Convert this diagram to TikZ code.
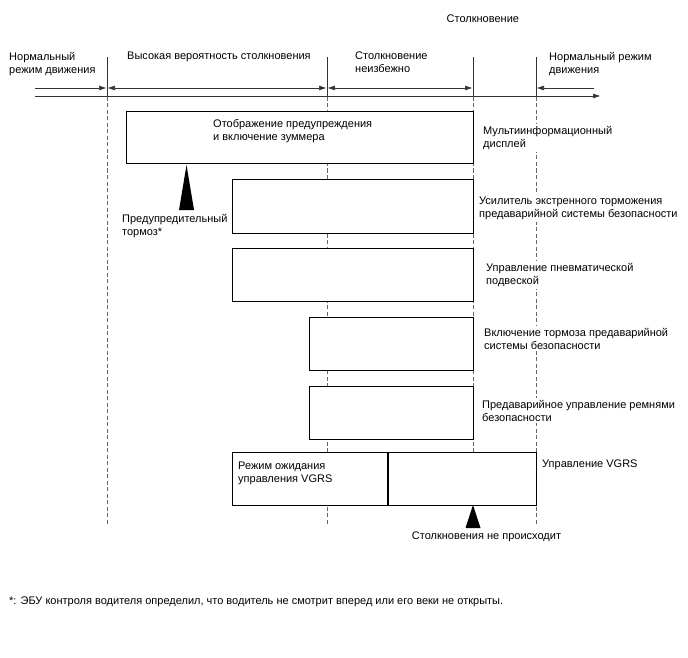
\documentclass[tikz,border=0pt]{standalone}
\usepackage{fontspec}
\setmainfont{Liberation Sans}
\usetikzlibrary{arrows.meta}
\begin{document}
\begin{tikzpicture}[x=1pt,y=-1pt,
  txt/.style={font=\fontsize{11}{13}\selectfont, inner sep=2pt, fill=white, align=left, anchor=north west},
  bx/.style={draw=black, line width=1.1pt, fill=white, anchor=north west, inner sep=0pt},
  vl/.style={draw=black!80, line width=0.6pt},
  vd/.style={draw=black!60, line width=0.6pt, dash pattern=on 4pt off 2.5pt},
  tip/.style={-{Triangle[length=7pt,width=4.5pt]}},
  tipb/.style={{Triangle[length=7pt,width=4.5pt]}-{Triangle[length=7pt,width=4.5pt]}},
  tri/.style={fill=black, draw=none}]
\useasboundingbox (0,0) rectangle (688,658);
% coordinates of the phase boundaries
\coordinate (t1) at (107,57);
\coordinate (t2) at (327,57);
\coordinate (t3) at (473,57);
\coordinate (t4) at (536,57);
% vertical lines
\foreach \c in {t1,t2,t3,t4}{
  \draw[vl] (\c) -- ++(0,40);
  \draw[vd] ([yshift=-40pt]\c) -- ++(0,428);
}
% baseline and arrows
\coordinate (b0) at (35,96);
\coordinate (b1) at (600,96);
\draw[vl, -{Triangle[length=7pt,width=4.5pt]}] (b0) -- (b1);
\coordinate (a0) at (35,88);
\coordinate (a1) at (106,88);
\coordinate (a2) at (108,88);
\coordinate (a3) at (326,88);
\coordinate (a4) at (328,88);
\coordinate (a5) at (472,88);
\coordinate (a6) at (537,88);
\coordinate (a7) at (594,88);
\draw[vl, tip] (a0) -- (a1);
\draw[vl, tipb] (a2) -- (a3);
\draw[vl, tipb] (a4) -- (a5);
\draw[vl, tip] (a7) -- (a6);
% header texts
\node[txt] (h0) at (444.5,13) {Столкновение};
\node[txt] (h1) at (7,50) {Нормальный\\режим движения};
\node[txt] (h2) at (125,50) {Высокая вероятность столкновения};
\node[txt] (h3) at (353,50) {Столкновение\\неизбежно};
\node[txt] (h4) at (547,50) {Нормальный режим\\движения};
% boxes
\node[bx, minimum width=347pt, minimum height=52pt] (b1x) at (126,111) {};
\node[txt, fill=none] (b1t) at (211,117) {Отображение предупреждения\\и включение зуммера};
\node[txt] (b1l) at (481,124) {Мультиинформационный\\дисплей};

\node[bx, minimum width=241pt, minimum height=54pt] (b2x) at (232,179) {};
\node[txt] (b2l) at (477,195) {Усилитель экстренного торможения\\предаварийной системы безопасности};

\node[bx, minimum width=241pt, minimum height=53pt] (b3x) at (232,248) {};
\node[txt] (b3l) at (484,261) {Управление пневматической\\подвеской};

\node[bx, minimum width=164pt, minimum height=53pt] (b4x) at (309,317) {};
\node[txt] (b4l) at (482,326) {Включение тормоза предаварийной\\системы безопасности};

\node[bx, minimum width=164pt, minimum height=53pt] (b5x) at (309,386) {};
\node[txt] (b5l) at (480,398) {Предаварийное управление ремнями\\безопасности};

\node[bx, minimum width=304pt, minimum height=53pt] (b6x) at (232,452) {};
\draw[line width=1.1pt] (388,452) -- (388,505);
\node[txt, fill=none] (b6t) at (236,460) {Режим ожидания\\управления VGRS};
\node[txt] (b6l) at (540,458) {Управление VGRS};
% triangles
\filldraw[tri] (186.5,165) -- (194,210) -- (179,210) -- cycle;
\node[txt] (tr1) at (120,212) {Предупредительный\\тормоз*};
\filldraw[tri] (473,505) -- (480.5,528) -- (465.5,528) -- cycle;
\node[txt, anchor=north] (tr2) at (486.5,530) {Столкновения не происходит};
% footnote
\node[txt] (fn) at (7,595) {*: ЭБУ контроля водителя определил, что водитель не смотрит вперед или его веки не открыты.};
\end{tikzpicture}
\end{document}
